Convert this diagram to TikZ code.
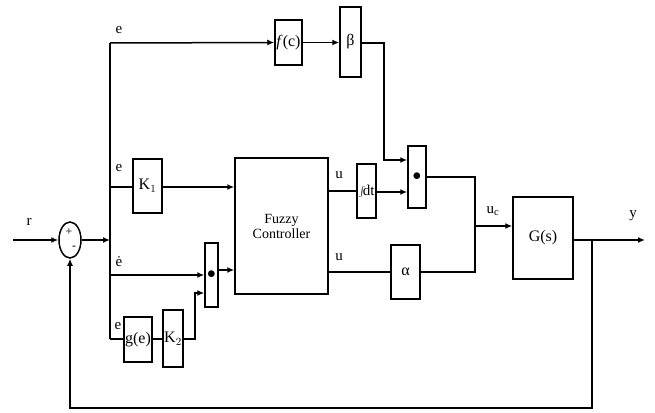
\documentclass[tikz,border=0pt]{standalone}
\usepackage{fontspec}
\setmainfont{Liberation Serif}
\usetikzlibrary{arrows.meta,shapes.geometric}
\begin{document}
\begin{tikzpicture}[x=1pt,y=-1pt,
  line width=1.5pt,
  blk/.style={draw,line width=1.5pt,inner sep=0pt,font=\fontsize{16}{18}\selectfont},
  lbl/.style={inner sep=0pt,font=\fontsize{15}{17}\selectfont},
  arr/.style={-{Latex[length=7pt,width=6pt]}}]
\useasboundingbox (0,0) rectangle (655,412);
% blocks
\node[blk,minimum width=27pt,minimum height=45pt] (fc) at (288.5,42.5) {\textit{f}(c)};
\node[blk,minimum width=21pt,minimum height=70pt] (beta) at (350.5,42) {β};
\node[blk,minimum width=18pt,minimum height=62pt] (mul1) at (417,177) {$\bullet$};
\node[blk,minimum width=19pt,minimum height=54pt,font=\fontsize{15}{16}\selectfont] (int) at (366.5,191) {$\int\!$dt};
\node[blk,minimum width=93pt,minimum height=136pt,align=center,font=\fontsize{14}{15}\selectfont] (fuzzy) at (281.5,226) {Fuzzy\\Controller};
\node[blk,minimum width=29pt,minimum height=54pt] (K1) at (147.5,186) {K$_1$};
\node[blk,ellipse,minimum width=22pt,minimum height=36pt] (sum) at (70,240) {};
\node[lbl,font=\fontsize{12}{12}\selectfont] (plus) at (69,232) {+};
\node[lbl,font=\fontsize{12}{12}\selectfont] (minus) at (74,248) {-};
\node[blk,minimum width=29pt,minimum height=54pt] (alpha) at (405.5,272) {α};
\node[blk,minimum width=60pt,minimum height=82pt] (G) at (543,238) {G(s)};
\node[blk,minimum width=13pt,minimum height=64pt] (mul2) at (211.5,275) {$\bullet$};
\node[blk,minimum width=28pt,minimum height=45pt] (g) at (138,339.5) {g(e)};
\node[blk,minimum width=20pt,minimum height=57pt] (K2) at (173,338.5) {K$_2$};
% coordinates
\coordinate (rin) at (13,240);
\coordinate (j) at (110,240);
\coordinate (vtop) at (110,43);
\coordinate (vbot) at (110,339);
\coordinate (vk1) at (110,187);
\coordinate (vdot) at (110,275);
\coordinate (bx) at (384,43);
\coordinate (sx) at (475,177);
\coordinate (uc) at (475,226);
\coordinate (yout) at (645,240);
\coordinate (fb) at (592,240);
\coordinate (fbb) at (70,408);
\coordinate (k2x) at (195,339);
% connectors
\draw[arr] (rin) -- (sum.west);
\draw[arr] (sum.east) -- (j);
\draw (vtop) -- (vbot);
\draw[arr] (vtop) -- (fc.west);
\draw[arr] (fc.east) -- (beta.west |- fc.east);
\draw[arr] (beta.east |- vtop) -- (bx) -- (bx |- 0,160) -- (mul1.west |- 0,160);
\draw (vk1) -- (K1.west |- vk1);
\draw[arr] (K1.east |- vk1) -- (fuzzy.west |- vk1);
\draw[arr] (vdot) -- (mul2.west |- vdot);
\draw (vbot) -- (g.west |- vbot);
\draw (g.east |- vbot) -- (K2.west |- vbot);
\draw[arr] (K2.east |- vbot) -- (k2x) -- (k2x |- 0,293) -- (mul2.west |- 0,293);
\draw[arr] (mul2.east |- 0,270) -- (fuzzy.west |- 0,270);
\draw (fuzzy.east |- 0,191) -- (int.west |- 0,191);
\draw[arr] (int.east |- 0,192) -- (mul1.west |- 0,192);
\draw (fuzzy.east |- alpha.west) -- (alpha.west);
\draw (alpha.east) -- (sx |- alpha.east) -- (sx) -- (mul1.east |- sx);
\draw[arr] (uc) -- (G.west |- uc);
\draw[arr] (G.east |- yout) -- (yout);
\draw[arr] (fb) -- (fb |- fbb) -- (fbb) -- (sum.south);
% labels
\node[lbl] (le1) at (119,30) {e};
\node[lbl] (le2) at (119,168) {e};
\node[lbl] (le3) at (119,262) {\.{e}};
\node[lbl] (le4) at (118,326) {e};
\node[lbl] (lr) at (29,222) {r};
\node[lbl] (lu1) at (339,175) {u};
\node[lbl] (lu2) at (339,257) {u};
\node[lbl] (luc) at (493,211) {u$_\mathrm{c}$};
\node[lbl] (ly) at (633,216) {y};
\end{tikzpicture}
\end{document}
